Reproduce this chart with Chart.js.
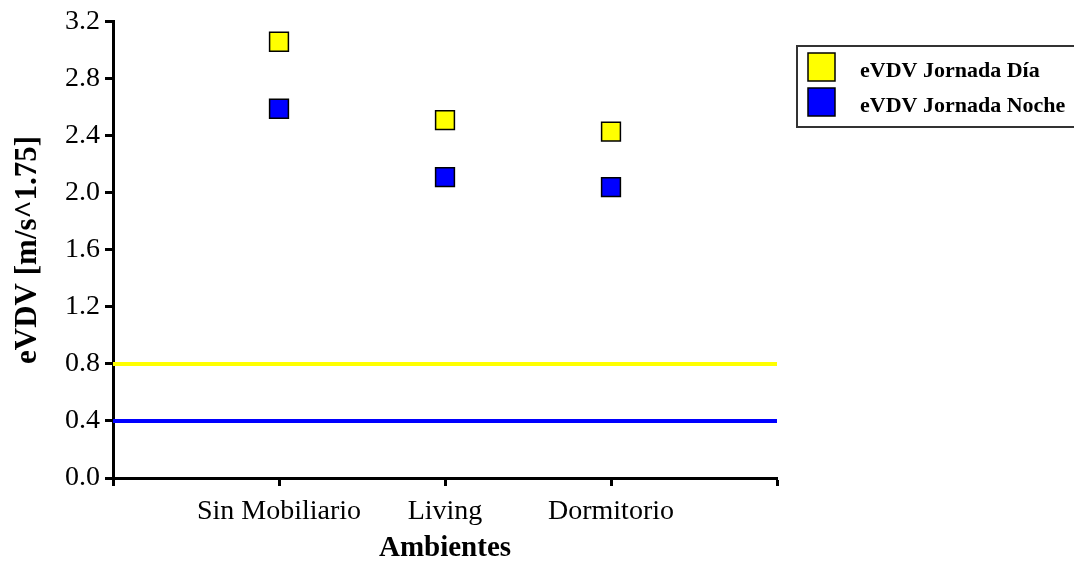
<!DOCTYPE html>
<html>
<head>
<meta charset="utf-8">
<script src="https://cdn.jsdelivr.net/npm/chart.js@4/dist/chart.umd.min.js"></script>
<style>
  html, body { margin: 0; padding: 0; background: #ffffff; }
  #wrap { width: 1074px; height: 562px; }
</style>
</head>
<body>
<div id="wrap"><canvas id="c" width="1074" height="562"></canvas></div>
<script>
// Ambientes medidos (posiciones 1..3 sobre el eje de categorías)
const ambientes = ['Sin Mobiliario', 'Living', 'Dormitorio'];
// eVDV medido en cada ambiente [m/s^1.75]
const evdvDia = [3.06, 2.51, 2.43];
const evdvNoche = [2.59, 2.11, 2.04];
// Límites de referencia para cada jornada
const limiteDia = 0.8;
const limiteNoche = 0.4;
// Marcas del eje vertical
const yTicks = [0.0, 0.4, 0.8, 1.2, 1.6, 2.0, 2.4, 2.8, 3.2];

const serieNombres = ['eVDV Jornada Día', 'eVDV Jornada Noche'];
const AMARILLO = '#FFFF00';
const AZUL = '#0000FF';

const toPoints = vals => vals.map((v, i) => ({ x: i + 1, y: v }));
const span = [0, ambientes.length + 1];
const limitLine = v => span.map(x => ({ x, y: v }));

// Leyenda recuadrada a la derecha del gráfico
const boxLegend = {
  id: 'boxLegend',
  afterDraw(chart) {
    const ctx = chart.ctx;
    const x0 = 797, y0 = 46, w = 300, h = 81;
    ctx.save();
    ctx.fillStyle = '#ffffff';
    ctx.fillRect(x0, y0, w, h);
    ctx.strokeStyle = '#333333';
    ctx.lineWidth = 2;
    ctx.strokeRect(x0, y0, w, h);
    const sets = chart.data.datasets.filter(d => d.inLegend);
    sets.forEach((d, i) => {
      const yy = 53 + i * 35;
      ctx.fillStyle = d.backgroundColor;
      ctx.fillRect(808, yy, 27, 28);
      ctx.strokeStyle = '#000000';
      ctx.lineWidth = 1.5;
      ctx.strokeRect(808, yy, 27, 28);
      ctx.fillStyle = '#000000';
      ctx.font = 'bold 22px "Liberation Serif", "DejaVu Serif", serif';
      ctx.textBaseline = 'middle';
      ctx.textAlign = 'left';
      ctx.fillText(d.label, 860, yy + 18);
    });
    ctx.restore();
  }
};

const tickFont = { family: '"Liberation Serif", "DejaVu Serif", serif', size: 28 };
const serifBold = { family: '"Liberation Serif", "DejaVu Serif", serif', weight: 'bold' };

new Chart(document.getElementById('c'), {
  type: 'scatter',
  data: {
    datasets: [
      {
        label: 'limite-dia',
        type: 'line',
        data: limitLine(limiteDia),
        borderColor: AMARILLO,
        borderWidth: 4,
        pointRadius: 0,
        inLegend: false,
        order: 3
      },
      {
        label: 'limite-noche',
        type: 'line',
        data: limitLine(limiteNoche),
        borderColor: AZUL,
        borderWidth: 4,
        pointRadius: 0,
        inLegend: false,
        order: 3
      },
      {
        label: serieNombres[0],
        data: toPoints(evdvDia),
        pointStyle: 'rect',
        pointRadius: 13.3,
        pointHoverRadius: 13.3,
        backgroundColor: AMARILLO,
        borderColor: '#000000',
        borderWidth: 1.5,
        inLegend: true,
        order: 1
      },
      {
        label: serieNombres[1],
        data: toPoints(evdvNoche),
        pointStyle: 'rect',
        pointRadius: 13.3,
        pointHoverRadius: 13.3,
        backgroundColor: AZUL,
        borderColor: '#000000',
        borderWidth: 1.5,
        inLegend: true,
        order: 1
      }
    ]
  },
  options: {
    responsive: false,
    animation: false,
    events: [],
    layout: { padding: { left: 0, right: 297, top: 21, bottom: 0 } },
    plugins: {
      legend: { display: false },
      tooltip: { enabled: false }
    },
    scales: {
      x: {
        type: 'linear',
        min: span[0],
        max: span[1],
        afterFit(scale) { scale.height = 84; },
        afterBuildTicks(scale) {
          scale.ticks = [0, 1, 2, 3, 4].map(v => ({ value: v }));
        },
        border: { display: true, color: '#000000', width: 3 },
        grid: {
          display: true,
          drawOnChartArea: false,
          drawTicks: true,
          tickLength: 8,
          tickWidth: 3,
          tickColor: '#000000'
        },
        ticks: {
          color: '#000000',
          font: tickFont,
          padding: 9,
          maxRotation: 0,
          autoSkip: false,
          callback: v => ambientes[v - 1] || ''
        },
        title: {
          display: true,
          text: 'Ambientes',
          color: '#000000',
          font: Object.assign({ size: 29, lineHeight: 0.9 }, serifBold),
          padding: { top: 0, bottom: 0 }
        }
      },
      y: {
        type: 'linear',
        min: yTicks[0],
        max: yTicks[yTicks.length - 1],
        afterFit(scale) { scale.width = 113; },
        afterBuildTicks(scale) {
          scale.ticks = yTicks.map(v => ({ value: v }));
        },
        border: { display: true, color: '#000000', width: 3 },
        grid: {
          display: true,
          drawOnChartArea: false,
          drawTicks: true,
          tickLength: 8,
          tickWidth: 3,
          tickColor: '#000000'
        },
        ticks: {
          color: '#000000',
          font: tickFont,
          padding: 5,
          callback: v => Number(v).toFixed(1)
        },
        title: {
          display: true,
          text: 'eVDV [m/s^1.75]',
          color: '#000000',
          font: Object.assign({ size: 31, lineHeight: 1.2 }, serifBold),
          padding: { top: 9, bottom: 0 }
        }
      }
    }
  },
  plugins: [boxLegend]
});
</script>
</body>
</html>
